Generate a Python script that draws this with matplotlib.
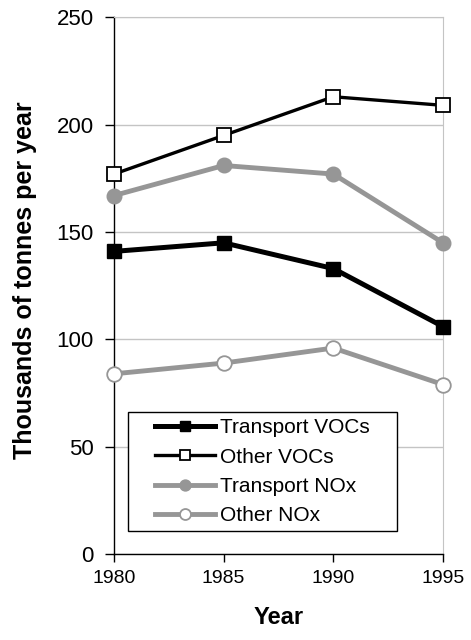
import matplotlib
matplotlib.use("Agg")
import matplotlib.pyplot as plt
from matplotlib.patches import Rectangle

plt.rcParams['font.family'] = ['Liberation Sans', 'DejaVu Sans']

# data
years = [1980, 1985, 1990, 1995]
transport_vocs = [141, 145, 133, 106]
other_vocs = [177, 195, 213, 209]
transport_nox = [167, 181, 177, 145]
other_nox = [84, 89, 96, 79]

gray = '#969696'

fig = plt.figure(figsize=(4.71, 6.4), dpi=100)
ax = fig.add_axes([0.242, 0.134, 0.6986, 0.839])

# light gridlines first
ax.set_axisbelow(True)
ax.grid(axis='y', color='#c4c4c4', linewidth=1)

ax.plot(years, transport_vocs, color='black', linewidth=3.6, marker='s',
        markersize=10, markerfacecolor='black', markeredgecolor='black',
        label='Transport VOCs', clip_on=False, zorder=3)
ax.plot(years, other_vocs, color='black', linewidth=2.4, marker='s',
        markersize=10, markerfacecolor='white', markeredgecolor='black',
        markeredgewidth=1.3, label='Other VOCs', clip_on=False, zorder=3)
ax.plot(years, transport_nox, color=gray, linewidth=3.5, marker='o',
        markersize=10.5, markerfacecolor=gray, markeredgecolor=gray,
        label='Transport NOx', clip_on=False, zorder=3)
ax.plot(years, other_nox, color=gray, linewidth=3.5, marker='o',
        markersize=10.5, markerfacecolor='white', markeredgecolor=gray,
        markeredgewidth=1.3, label='Other NOx', clip_on=False, zorder=3)

ax.set_xlim(1980, 1995)
ax.set_ylim(0, 250)
ax.set_xticks(years)
ax.set_yticks([0, 50, 100, 150, 200, 250])

for side in ['top', 'right']:
    ax.spines[side].set_color('#c4c4c4')
for side in ['left', 'bottom']:
    ax.spines[side].set_color('black')
    ax.spines[side].set_linewidth(1)

ax.tick_params(axis='x', direction='out', length=6, width=1,
               labelsize=14, pad=5)
ax.tick_params(axis='y', direction='out', length=6.5, width=1,
               labelsize=16, pad=8)

ax.set_xlabel('Year', fontsize=17, fontweight='bold', labelpad=14)
ax.set_ylabel('Thousands of tonnes per year', fontsize=18, fontweight='bold')
ax.yaxis.set_label_coords(-0.235, 0.51)

# legend box (square corners, black edge)
box = Rectangle((0.0426, 0.0428), 0.8174, 0.2216, transform=ax.transAxes,
                facecolor='white', edgecolor='black', linewidth=1, zorder=4)
ax.add_patch(box)
leg = ax.legend(loc='center', bbox_to_anchor=(0.451, 0.1536),
                fontsize=15, frameon=False, markerscale=0.75,
                handlelength=2.85, handletextpad=0.25, labelspacing=0.5,
                borderpad=0, borderaxespad=0)
leg.set_zorder(5)

fig.savefig('out.png', dpi=100)
